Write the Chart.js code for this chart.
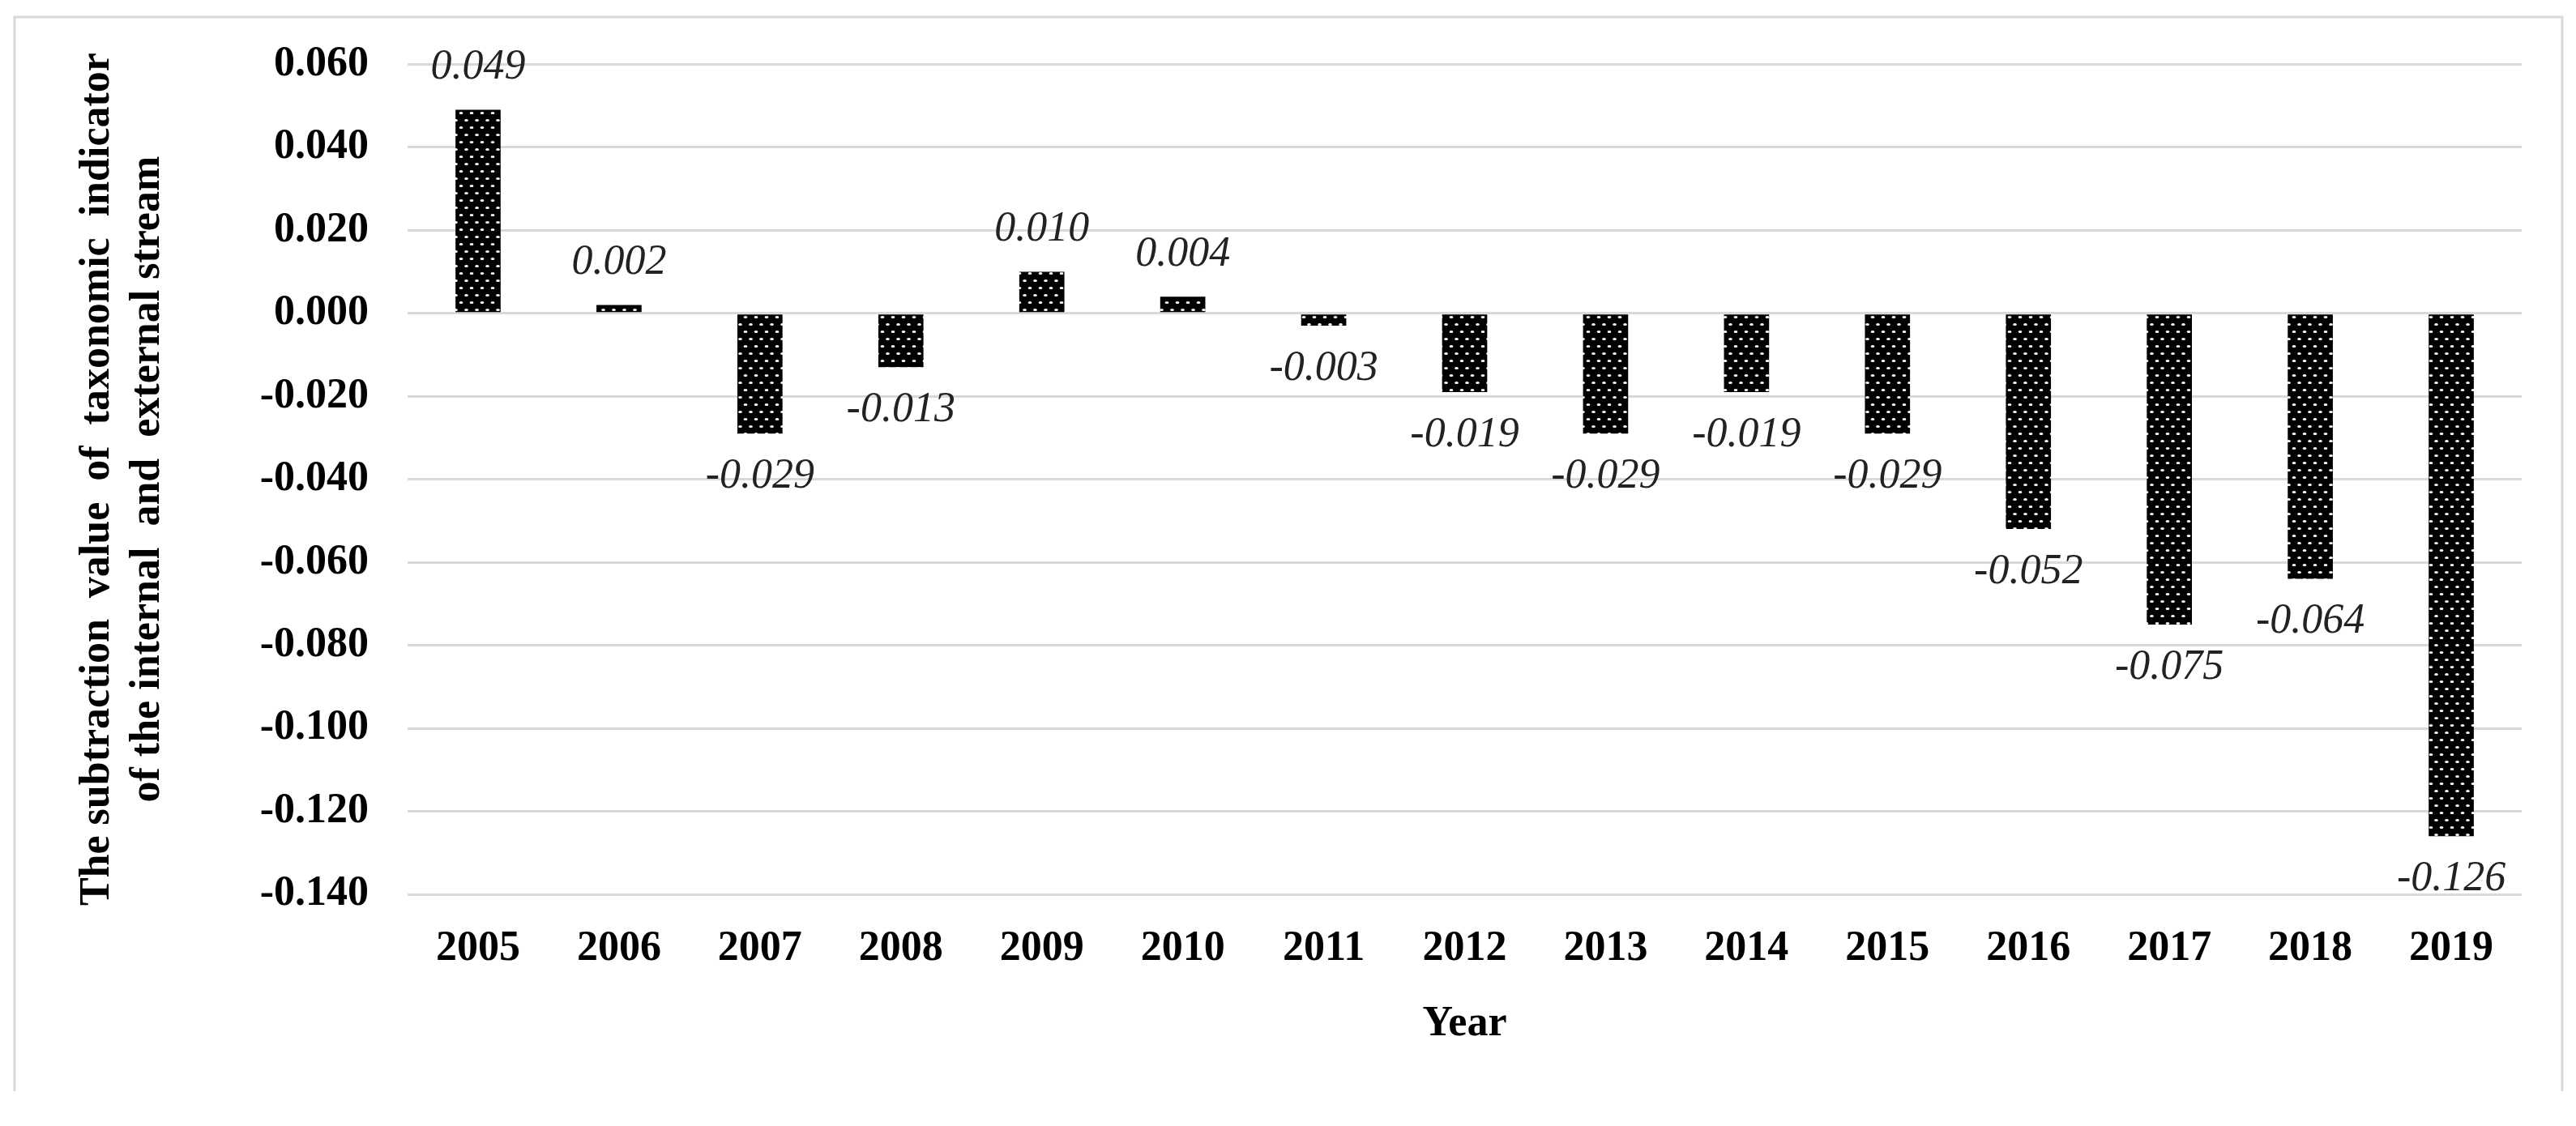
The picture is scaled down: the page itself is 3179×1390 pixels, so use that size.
<!DOCTYPE html>
<html>
<head>
<meta charset="utf-8">
<title>Subtraction value of taxonomic indicator</title>
<script src="https://cdn.jsdelivr.net/npm/chart.js@4.4.1/dist/chart.umd.min.js"></script>
<style>
  html, body { margin: 0; padding: 0; background: #ffffff; }
  #chart { display: block; }
</style>
</head>
<body>
<canvas id="chart" width="3179" height="1390"></canvas>
<script>
// Chart data
const years = ["2005", "2006", "2007", "2008", "2009", "2010", "2011", "2012", "2013", "2014", "2015", "2016", "2017", "2018", "2019"];
const differenceValues = [0.049, 0.002, -0.029, -0.013, 0.010, 0.004, -0.003, -0.019, -0.029, -0.019, -0.029, -0.052, -0.075, -0.064, -0.126];
const yAxisTitle = ["The subtraction  value  of  taxonomic  indicator", "of the internal  and  external stream"];
const xAxisTitle = "Year";

const SERIF = "'Liberation Serif', 'Times New Roman', serif";

// Black fill with staggered white dots, like the Excel pattern fill
function makeDotPattern() {
  const tile = document.createElement("canvas");
  tile.width = 13;
  tile.height = 18;
  const t = tile.getContext("2d");
  t.fillStyle = "#000000";
  t.fillRect(0, 0, 13, 18);
  t.fillStyle = "#ffffff";
  t.beginPath();
  t.ellipse(3.5, 4.5, 2.4, 1.6, 0, 0, Math.PI * 2);
  t.ellipse(10, 13.5, 2.4, 1.6, 0, 0, Math.PI * 2);
  t.fill();
  return document.getElementById("chart").getContext("2d").createPattern(tile, "repeat");
}

// Light grey frame round the figure (left, top and right edges only)
const framePlugin = {
  id: "frame",
  beforeDraw(chart) {
    const ctx = chart.ctx;
    ctx.save();
    ctx.fillStyle = "#ffffff";
    ctx.fillRect(0, 0, chart.width, chart.height);
    ctx.strokeStyle = "#d9d9d9";
    ctx.lineWidth = 3;
    ctx.beginPath();
    ctx.moveTo(18, 1347);
    ctx.lineTo(18, 21);
    ctx.lineTo(3162, 21);
    ctx.lineTo(3162, 1347);
    ctx.stroke();
    ctx.restore();
  },
};

// Italic value labels above positive bars and below negative ones
const valueLabelPlugin = {
  id: "valueLabels",
  afterDatasetsDraw(chart) {
    const ctx = chart.ctx;
    const meta = chart.getDatasetMeta(0);
    ctx.save();
    ctx.font = "italic 52px " + SERIF;
    ctx.fillStyle = "#222222";
    ctx.textAlign = "center";
    ctx.textBaseline = "middle";
    meta.data.forEach((bar, i) => {
      const v = differenceValues[i];
      const y = v >= 0 ? bar.y - 52 : bar.y + 53;
      ctx.fillText(v.toFixed(3), bar.x, y);
    });
    ctx.restore();
  },
};

const chart = new Chart(document.getElementById("chart"), {
  type: "bar",
  data: {
    labels: years,
    datasets: [
      {
        data: differenceValues,
        backgroundColor: makeDotPattern(),
        borderWidth: 0,
        barPercentage: 0.32,
        categoryPercentage: 1,
      },
    ],
  },
  options: {
    responsive: false,
    animation: false,
    devicePixelRatio: 1,
    layout: { padding: { left: 0, right: 67, top: 67, bottom: 0 } },
    plugins: {
      legend: { display: false },
      tooltip: { enabled: false },
    },
    scales: {
      x: {
        grid: { display: false },
        border: { display: false },
        ticks: {
          color: "#000000",
          padding: 28,
          font: { family: SERIF, size: 52, weight: "bold" },
        },
        title: {
          display: true,
          text: xAxisTitle,
          color: "#000000",
          padding: { top: 0, bottom: 94 },
          font: { family: SERIF, size: 52, weight: "bold" },
        },
        afterFit(scale) {
          scale.height = 286;
        },
      },
      y: {
        min: -0.14,
        max: 0.06,
        grid: { color: "#d9d9d9", lineWidth: 3, drawTicks: false },
        border: { display: false },
        ticks: {
          stepSize: 0.02,
          color: "#000000",
          padding: 48,
          font: { family: SERIF, size: 52, weight: "bold" },
          callback: (v) => (Math.abs(v) < 1e-9 ? "0.000" : Number(v).toFixed(3)),
        },
        title: {
          display: true,
          text: yAxisTitle,
          color: "#000000",
          padding: { top: 89, bottom: 0 },
          font: { family: SERIF, size: 52, weight: "bold" },
        },
        afterFit(scale) {
          scale.width = 503;
        },
      },
    },
  },
  plugins: [framePlugin, valueLabelPlugin],
});
</script>
</body>
</html>
